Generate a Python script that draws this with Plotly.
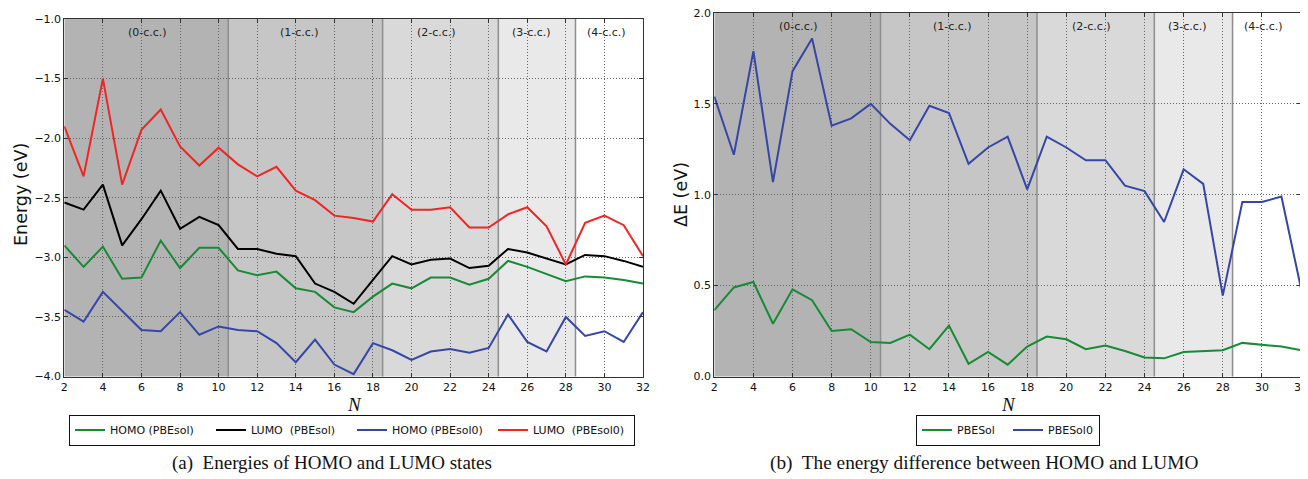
import plotly.graph_objects as go

# ---------------- data ----------------
N = list(range(2, 33))

homo_pbesol = [-2.90, -3.08, -2.91, -3.18, -3.17, -2.86, -3.09, -2.92, -2.92, -3.11,
               -3.15, -3.12, -3.26, -3.29, -3.42, -3.46, -3.33, -3.22, -3.26, -3.17,
               -3.17, -3.23, -3.18, -3.03, -3.08, -3.14, -3.20, -3.16, -3.17, -3.19, -3.22]
lumo_pbesol = [-2.54, -2.60, -2.39, -2.90, -2.68, -2.44, -2.76, -2.66, -2.73, -2.93,
               -2.93, -2.97, -2.99, -3.22, -3.29, -3.39, -3.19, -2.99, -3.06, -3.02,
               -3.01, -3.09, -3.07, -2.93, -2.96, -3.01, -3.06, -2.98, -2.99, -3.03, -3.08]
homo_pbesol0 = [-3.44, -3.54, -3.29, -3.45, -3.61, -3.62, -3.46, -3.65, -3.58, -3.61,
                -3.62, -3.72, -3.88, -3.69, -3.90, -3.98, -3.72, -3.78, -3.86, -3.79,
                -3.77, -3.80, -3.76, -3.48, -3.71, -3.79, -3.50, -3.66, -3.62, -3.71, -3.46]
lumo_pbesol0 = [-1.90, -2.32, -1.50, -2.39, -1.93, -1.76, -2.07, -2.23, -2.08, -2.22,
                -2.32, -2.24, -2.44, -2.52, -2.65, -2.67, -2.70, -2.47, -2.60, -2.60,
                -2.58, -2.75, -2.75, -2.64, -2.58, -2.74, -3.06, -2.71, -2.65, -2.73, -2.99]

gap_pbesol = [0.365, 0.49, 0.52, 0.29, 0.48, 0.42, 0.25, 0.26, 0.19, 0.185,
              0.23, 0.15, 0.28, 0.07, 0.135, 0.065, 0.165, 0.22, 0.205, 0.15,
              0.17, 0.14, 0.105, 0.10, 0.135, 0.14, 0.145, 0.185, 0.175, 0.165, 0.145]
gap_pbesol0 = [1.54, 1.22, 1.79, 1.07, 1.68, 1.86, 1.38, 1.42, 1.50, 1.39,
               1.30, 1.49, 1.45, 1.17, 1.26, 1.32, 1.03, 1.32, 1.26, 1.19,
               1.19, 1.05, 1.02, 0.85, 1.14, 1.06, 0.445, 0.96, 0.96, 0.99, 0.485]

region_bounds = [2, 10.5, 18.5, 24.5, 28.5, 32]
region_labels = ["(0-c.c.)", "(1-c.c.)", "(2-c.c.)", "(3-c.c.)", "(4-c.c.)"]
region_label_x = [6.3, 14.2, 21.3, 26.2, 30.1]
region_colors = ["#b3b3b3", "#c6c6c6", "#d9d9d9", "#e9e9e9", "#ffffff"]

left_names = ["HOMO (PBEsol)", "LUMO\u00a0 (PBEsol)", "HOMO (PBEsol0)", "LUMO\u00a0 (PBEsol0)"]
left_series = [homo_pbesol, lumo_pbesol, homo_pbesol0, lumo_pbesol0]
left_colors = ["#178a35", "#000000", "#3646a6", "#f02525"]

right_names = ["PBESol", "PBESol0"]
right_series = [gap_pbesol, gap_pbesol0]
right_colors = ["#178a35", "#3646a6"]

# ---------------- figure ----------------
# page body has an 8px margin, so the figure is placed at (8, 8) in the window
OFF = 8
W, H = 1308, 471
fig = go.Figure()

for name, ys, c in zip(left_names, left_series, left_colors):
    fig.add_trace(go.Scatter(x=N, y=ys, mode="lines", name=name,
                             line=dict(color=c, width=2), xaxis="x", yaxis="y",
                             legend="legend"))
for name, ys, c in zip(right_names, right_series, right_colors):
    fig.add_trace(go.Scatter(x=N, y=ys, mode="lines", name=name,
                             line=dict(color=c, width=2), xaxis="x2", yaxis="y2",
                             legend="legend2"))

def px_x(p):
    return (p - OFF) / W

def px_y(p):
    return 1 - (p - OFF) / H

shapes = []
annotations = []
for xr, yr in (("x", "y domain"), ("x2", "y2 domain")):
    for i in range(len(region_labels)):
        shapes.append(dict(type="rect", xref=xr, yref=yr, x0=region_bounds[i], x1=region_bounds[i + 1],
                           y0=0, y1=1, fillcolor=region_colors[i], line=dict(width=0), layer="below"))
    for b in region_bounds[1:-1]:
        shapes.append(dict(type="line", xref=xr, yref=yr, x0=b, x1=b, y0=0, y1=1,
                           line=dict(color="#8e8e8e", width=1.5), layer="below"))
    for lab, lx in zip(region_labels, region_label_x):
        annotations.append(dict(text=lab, xref=xr, yref=yr, x=lx, y=0.963, showarrow=False,
                                xanchor="center", yanchor="middle",
                                font=dict(family="DejaVu Sans", size=11, color="#222222")))

def paper_text(text, x, y, size, family, angle=0):
    return dict(text=text, xref="paper", yref="paper", x=px_x(x), y=px_y(y), textangle=angle,
                xanchor="center", yanchor="middle", showarrow=False,
                font=dict(family=family, size=size, color="#111"))

annotations += [
    paper_text("Energy (eV)", 21, 195, 17.5, "DejaVu Sans", -90),
    paper_text("\u0394E (eV)", 681, 195, 17.5, "DejaVu Sans", -90),
    paper_text("<i>N</i>", 354, 404, 19, "Liberation Serif"),
    paper_text("<i>N</i>", 1008, 404, 19, "Liberation Serif"),
    paper_text("(a)  Energies of HOMO and LUMO states", 332, 463, 19, "Liberation Serif"),
    paper_text("(b)  The energy difference between HOMO and LUMO", 984, 463, 19.3, "Liberation Serif"),
]

axis_common = dict(showline=True, linecolor="#333333", linewidth=1, mirror="ticks",
                   ticks="inside", ticklen=4, tickcolor="#333333",
                   showgrid=True, gridcolor="#666666", gridwidth=1, griddash="1px,2px",
                   zeroline=False, automargin=False, ticklabeloverflow="allow",
                   tickfont=dict(family="DejaVu Sans", size=11, color="#111"))

fig.update_layout(
    width=W, height=H,
    margin=dict(l=0, r=0, t=0, b=0),
    paper_bgcolor="white", plot_bgcolor="white",
    xaxis=dict(domain=[px_x(64.3), px_x(643)], range=[2, 32], dtick=2, tick0=2, anchor="y", **axis_common),
    yaxis=dict(domain=[px_y(376.5), px_y(19)], range=[-4, -1], dtick=0.5, tickformat=".1f", anchor="x",
               **axis_common),
    xaxis2=dict(domain=[px_x(714.3), px_x(1301)], range=[2, 32], dtick=2, tick0=2, anchor="y2", **axis_common),
    yaxis2=dict(domain=[px_y(376.5), px_y(13)], range=[0, 2], dtick=0.5, tickformat=".1f", anchor="x2",
                **axis_common),
    shapes=shapes,
    annotations=annotations,
    legend=dict(orientation="h", x=px_x(69), xanchor="left", y=px_y(430), yanchor="middle",
                bgcolor="white", bordercolor="#111111", borderwidth=1,
                entrywidth=96, entrywidthmode="pixels",
                font=dict(family="DejaVu Sans", size=11, color="#111")),
    legend2=dict(orientation="h", x=px_x(916), xanchor="left", y=px_y(430), yanchor="middle",
                 bgcolor="white", bordercolor="#111111", borderwidth=1,
                 entrywidth=46, entrywidthmode="pixels",
                 font=dict(family="DejaVu Sans", size=11, color="#111")),
    showlegend=True,
)

fig.write_html("out.html")
